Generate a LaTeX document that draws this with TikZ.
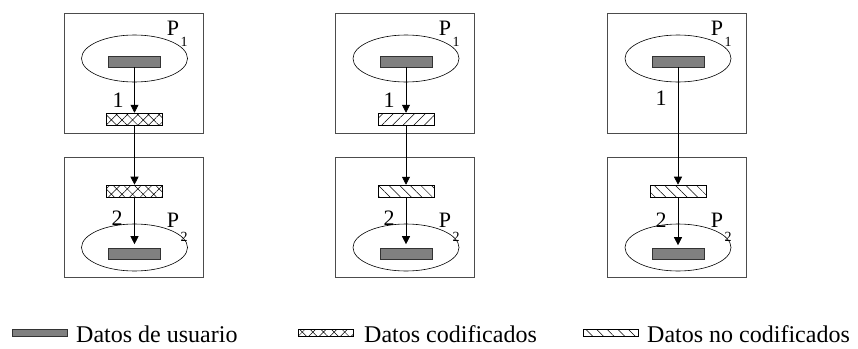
\documentclass[tikz,border=0pt]{standalone}
\usepackage{fontspec}
\setmainfont{Liberation Serif}
\usetikzlibrary{patterns.meta,arrows.meta,shapes.geometric}
\begin{document}
\begin{tikzpicture}[x=1pt,y=-1pt,
  frame/.style={draw=black!70, line width=0.8pt, minimum width=139pt, minimum height=120pt, inner sep=0},
  proc/.style={ellipse, draw=black, line width=0.6pt, minimum width=106pt, minimum height=47pt, inner sep=0},
  udata/.style={draw=black!80, fill=black!50, line width=0.6pt, minimum width=52pt, minimum height=11pt, inner sep=0},
  hbox/.style={draw=black, line width=0.6pt, minimum width=56pt, minimum height=12pt, inner sep=0},
  cdata/.style={hbox, pattern={Hatch[angle=45,distance=7.5pt,line width=0.5pt]}},
  fdata/.style={hbox, pattern={Lines[angle=45,distance=7.5pt,line width=0.5pt]}},
  ndata/.style={hbox, pattern={Lines[angle=-45,distance=7.5pt,line width=0.5pt]}},
  flow/.style={-{Triangle[length=8pt,width=8pt]}, line width=0.6pt},
  lab/.style={font=\fontsize{22}{22}\selectfont, inner sep=0},
  sublab/.style={font=\fontsize{14}{14}\selectfont, inner sep=0},
  legtext/.style={font=\fontsize{24}{24}\selectfont, inner sep=0, anchor=west}
]
\path[use as bounding box] (0,0) rectangle (858,348);

% column 1
\node[frame] (b1a) at (133.5,73) {};
\node[frame] (b1b) at (133.5,217.5) {};
\node[proc] (e1a) at (134.5,58.5) {};
\node[udata] (u1a) at (134.5,61.5) {};
\node[cdata] (h1a) at (134.5,119) {};
\node[cdata] (h1b) at (134.5,191) {};
\node[proc] (e1b) at (134.5,247.5) {};
\node[udata] (u1b) at (134.5,254) {};
\draw[flow] (u1a) -- (h1a);
\draw[flow] (h1a) -- (h1b);
\draw[flow, shorten >=4pt] (h1b) -- (u1b);
\node[lab] (l1a) at (118,100) {1};
\node[lab] (l1b) at (117,218) {2};
\node[lab] (p1a) at (173,28) {P};
\node[sublab] (s1a) at (184,42) {1};
\node[lab] (p1b) at (173,220) {P};
\node[sublab] (s1b) at (184,237) {2};

% column 2
\node[frame] (b2a) at (405,73) {};
\node[frame] (b2b) at (405,217.5) {};
\node[proc] (e2a) at (406,58.5) {};
\node[udata] (u2a) at (406,61.5) {};
\node[fdata] (h2a) at (406,119) {};
\node[ndata] (h2b) at (406,191) {};
\node[proc] (e2b) at (406,247.5) {};
\node[udata] (u2b) at (406,254) {};
\draw[flow] (u2a) -- (h2a);
\draw[flow] (h2a) -- (h2b);
\draw[flow, shorten >=4pt] (h2b) -- (u2b);
\node[lab] (l2a) at (389,100) {1};
\node[lab] (l2b) at (389,218) {2};
\node[lab] (p2a) at (445,28) {P};
\node[sublab] (s2a) at (456,42) {1};
\node[lab] (p2b) at (445,220) {P};
\node[sublab] (s2b) at (456,237) {2};

% column 3
\node[frame] (b3a) at (676.7,73) {};
\node[frame] (b3b) at (676.7,217.5) {};
\node[proc] (e3a) at (678,58.5) {};
\node[udata] (u3a) at (678,61.5) {};
\node[ndata] (h3b) at (678,191) {};
\node[proc] (e3b) at (678,247.5) {};
\node[udata] (u3b) at (678,254) {};
\draw[flow] (u3a) -- (h3b);
\draw[flow, shorten >=3pt] (h3b) -- (u3b);
\node[lab] (l3a) at (661,98) {1};
\node[lab] (l3b) at (661,220) {2};
\node[lab] (p3a) at (717,28) {P};
\node[sublab] (s3a) at (728,42) {1};
\node[lab] (p3b) at (717,220) {P};
\node[sublab] (s3b) at (728,237) {2};

% legend
\node[udata, minimum width=55pt, minimum height=7pt] (k1) at (40,333) {};
\node[legtext] (t1) at (76,334) {Datos de usuario};
\node[cdata, minimum width=55pt, minimum height=7pt] (k2) at (326,333) {};
\node[legtext] (t2) at (364,334) {Datos codificados};
\node[ndata, minimum width=55pt, minimum height=7pt] (k3) at (611,333) {};
\node[legtext] (t3) at (647,334) {Datos no codificados};
\end{tikzpicture}
\end{document}
